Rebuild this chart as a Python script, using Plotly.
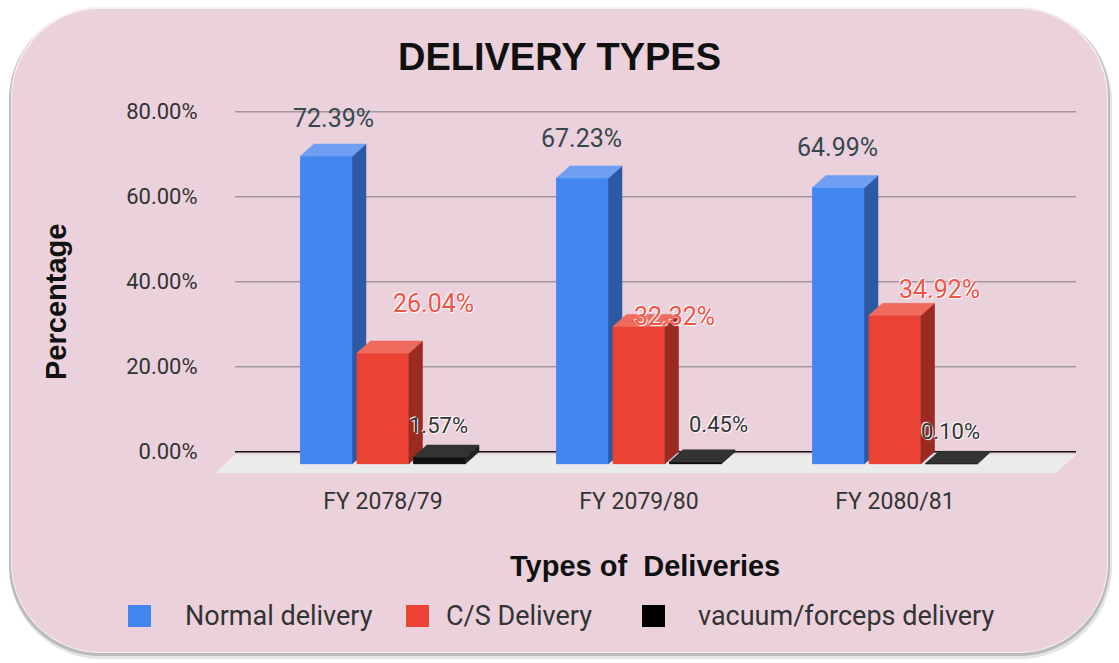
import plotly.graph_objects as go

# ---- data -------------------------------------------------------------
CATEGORIES = ["FY 2078/79", "FY 2079/80", "FY 2080/81"]
SERIES_NAMES = ["Normal delivery", "C/S Delivery", "vacuum/forceps delivery"]
NORMAL = [72.39, 67.23, 64.99]
CS = [26.04, 32.32, 34.92]
VACUUM = [1.57, 0.45, 0.10]
Y_TICKS = [0, 20, 40, 60, 80]

# ---- styling ----------------------------------------------------------
W, H = 1119, 663
L, R, T, B = 215, 1076, 99, 473          # plot area in pixels
X_RANGE = [-0.656, 2.707]
Y_RANGE = [-5.0, 83.0]

FRONT = ["#4486f0", "#ea4335", "#111111"]
TOP = ["#6e9ff2", "#ef6b5e", "#333333"]
SIDE = ["#2d59a3", "#9b2a22", "#222222"]
LABEL_COLORS = ["#37474f", "#ef5448", "#333333"]
LABEL_SIZES = [25, 25, 22]
# label nudges (pixels) relative to the top of each bar's front face
LABEL_DX = [[7, -1, -1], [51, 36, 45], [-1, 23, -1]]
LABEL_DY = [[38, 40, 40], [50, 10, 26], [32, 37, 32]]

PINK = "#ebd1dc"
SANS = "Roboto, Liberation Sans, Arial, sans-serif"
BOLD = "Liberation Sans, Arial, sans-serif"

px_x = (R - L) / (X_RANGE[1] - X_RANGE[0])   # pixels per category unit
px_y = (B - T) / (Y_RANGE[1] - Y_RANGE[0])   # pixels per percent

DX = 13.5 / px_x        # depth offset of the 3-D effect
DY = 12.0 / px_y
BAR_W = 52 / px_x
STEP = 56.5 / px_x
OFFSETS = [-STEP, 0.0, STEP]
FLOOR_DX = 20 / px_x
FLOOR_TOP = -3.0 / px_y


def pxx(x):
    return (x - L) / (R - L)


def pyy(y):
    return (B - y) / (B - T)


def rounded_path(x0, y0, x1, y1, r):
    k = 0.5523 * r
    pts = [
        ("M", [(x0 + r, y0)]),
        ("L", [(x1 - r, y0)]),
        ("C", [(x1 - r + k, y0), (x1, y0 + r - k), (x1, y0 + r)]),
        ("L", [(x1, y1 - r)]),
        ("C", [(x1, y1 - r + k), (x1 - r + k, y1), (x1 - r, y1)]),
        ("L", [(x0 + r, y1)]),
        ("C", [(x0 + r - k, y1), (x0, y1 - r + k), (x0, y1 - r)]),
        ("L", [(x0, y0 + r)]),
        ("C", [(x0, y0 + r - k), (x0 + r - k, y0), (x0 + r, y0)]),
    ]
    out = []
    for cmd, p in pts:
        out.append(cmd + " ".join(f"{pxx(a):.5f},{pyy(b):.5f}" for a, b in p))
    return " ".join(out) + " Z"


fig = go.Figure()

series = [NORMAL, CS, VACUUM]

# front faces as real bars
for k, vals in enumerate(series):
    xs = [i + OFFSETS[k] for i in range(len(CATEGORIES))]
    fig.add_trace(go.Bar(
        x=xs, y=vals, base=-DY, width=BAR_W, name=SERIES_NAMES[k],
        marker=dict(color=FRONT[k], line=dict(width=0)),
        showlegend=False, hovertemplate="%{y:.2f}%<extra>" + SERIES_NAMES[k] + "</extra>",
    ))


def face_trace(xpts, ypts, color):
    return go.Scatter(x=xpts, y=ypts, mode="lines", fill="toself", fillcolor=color,
                      line=dict(width=0.6, color=color), hoverinfo="skip", showlegend=False)


# faces drawn series by series so that each bar covers the side of its left neighbour
for k, vals in enumerate(series):
    fx, fy, tx, ty, sx, sy = [], [], [], [], [], []
    for i, v in enumerate(vals):
        xl = i + OFFSETS[k] - BAR_W / 2
        xr = xl + BAR_W
        yb, yt = -DY, v - DY
        fx += [xl, xr, xr, xl, xl, None]
        fy += [yb, yb, yt, yt, yb, None]
        tx += [xl, xr, xr + DX, xl + DX, xl, None]
        ty += [yt, yt, v, v, yt, None]
        sx += [xr, xr + DX, xr + DX, xr, xr, None]
        sy += [yb, 0, v, yt, yb, None]
    fig.add_trace(face_trace(fx, fy, FRONT[k]))
    fig.add_trace(face_trace(sx, sy, SIDE[k]))
    fig.add_trace(face_trace(tx, ty, TOP[k]))

# value labels
annotations = []
for k, vals in enumerate(series):
    for i, v in enumerate(vals):
        font = dict(family=SANS, size=LABEL_SIZES[k], color=LABEL_COLORS[k])
        if k > 0:
            font["shadow"] = "1px 1px 1px #ffffff, -1px -1px 1px #ffffff"
        annotations.append(dict(
            x=i + OFFSETS[k], y=v - DY, xref="x", yref="y",
            text=f"{v:.2f}%", showarrow=False,
            xshift=LABEL_DX[k][i], yshift=LABEL_DY[k][i],
            xanchor="center", yanchor="middle", font=font,
        ))

# axis titles
annotations.append(dict(
    x=pxx(56), y=pyy(302), xref="paper", yref="paper", text="<b>Percentage</b>",
    textangle=-90, showarrow=False, xanchor="center", yanchor="middle",
    font=dict(family=BOLD, size=29, color="#111111"),
))
annotations.append(dict(
    x=pxx(645), y=pyy(566), xref="paper", yref="paper",
    text="<b>Types of\u00a0 Deliveries</b>", showarrow=False,
    xanchor="center", yanchor="middle",
    font=dict(family=BOLD, size=29, color="#111111"),
))

# legend
LEGEND_BOX_X = [128, 406, 642]
LEGEND_TEXT_X = [183, 444, 696]
LEGEND_Y = 616
shapes = []

# panel with a soft shadow
shapes.append(dict(type="path", xref="paper", yref="paper", layer="below",
                   path=rounded_path(9, 9, 1112, 659, 92),
                   fillcolor="rgba(0,0,0,0.10)", line=dict(width=0)))
shapes.append(dict(type="path", xref="paper", yref="paper", layer="below",
                   path=rounded_path(9, 8, 1110, 656, 91),
                   fillcolor="rgba(0,0,0,0.18)", line=dict(width=0)))
shapes.append(dict(type="path", xref="paper", yref="paper", layer="below",
                   path=rounded_path(11, 7, 1108, 653, 90),
                   fillcolor="#f7eef2", line=dict(width=0)))
shapes.append(dict(type="path", xref="paper", yref="paper", layer="below",
                   path=rounded_path(12, 9, 1107, 652, 89),
                   fillcolor=PINK, line=dict(width=0)))

# gridlines on the back wall
x_left = X_RANGE[0] + FLOOR_DX
for v in Y_TICKS:
    shapes.append(dict(type="line", xref="x", yref="y", layer="below",
                       x0=x_left, x1=X_RANGE[1], y0=v, y1=v,
                       line=dict(color="#111111" if v == 0 else "#a3979d",
                                 width=1.6 if v == 0 else 1.5)))

# floor
shapes.append(dict(type="path", xref="x", yref="y", layer="below",
                   path=(f"M{X_RANGE[0]},{Y_RANGE[0]} L{X_RANGE[1] - FLOOR_DX},{Y_RANGE[0]} "
                         f"L{X_RANGE[1]},{FLOOR_TOP} L{x_left},{FLOOR_TOP} Z"),
                   fillcolor="#ebebeb", line=dict(width=0)))

for k, name in enumerate(SERIES_NAMES):
    bx = LEGEND_BOX_X[k]
    shapes.append(dict(type="rect", xref="paper", yref="paper",
                       x0=pxx(bx), x1=pxx(bx + 23), y0=pyy(LEGEND_Y - 11), y1=pyy(LEGEND_Y + 11),
                       fillcolor=FRONT[k] if k < 2 else "#000000", line=dict(width=0)))
    annotations.append(dict(
        x=pxx(LEGEND_TEXT_X[k]), y=pyy(LEGEND_Y), xref="paper", yref="paper",
        text=name, showarrow=False, xanchor="left", yanchor="middle",
        font=dict(family=SANS, size=27, color="#333333"),
    ))

fig.update_layout(
    width=W, height=H,
    margin=dict(l=L, r=W - R, t=T, b=H - B, pad=0),
    paper_bgcolor="#ffffff", plot_bgcolor="rgba(0,0,0,0)",
    barmode="overlay",
    title=dict(text="<b>DELIVERY TYPES</b>", x=0.5, xanchor="center",
               y=1 - 57 / H, yanchor="middle", yref="container",
               font=dict(family=BOLD, size=38, color="#111111")),
    xaxis=dict(range=X_RANGE, tickvals=list(range(len(CATEGORIES))), ticktext=CATEGORIES,
               showgrid=False, zeroline=False, showline=False,
               ticks="outside", ticklen=7, tickcolor="rgba(0,0,0,0)",
               tickfont=dict(family=SANS, size=23, color="#333333"), fixedrange=True),
    yaxis=dict(range=Y_RANGE, tickvals=Y_TICKS, ticktext=[f"{v:.2f}%" for v in Y_TICKS],
               showgrid=False, zeroline=False, showline=False,
               ticks="outside", ticklen=12, tickcolor="rgba(0,0,0,0)",
               tickfont=dict(family=SANS, size=22, color="#333333"), fixedrange=True),
    shapes=shapes,
    annotations=annotations,
    showlegend=False,
)

fig.write_html("out.html")
